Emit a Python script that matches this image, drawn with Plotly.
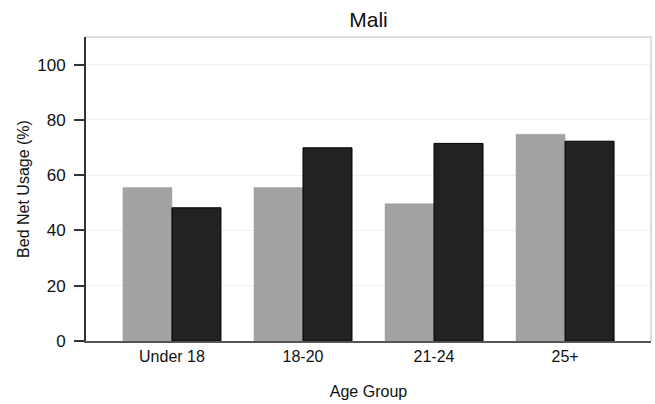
import plotly.graph_objects as go

categories = ["Under 18", "18-20", "21-24", "25+"]
series_a = [55.5, 55.5, 49.7, 74.8]
series_b = [48.2, 69.9, 71.5, 72.3]
y_ticks = [0, 20, 40, 60, 80, 100]

fig = go.Figure()
fig.add_trace(go.Bar(x=categories, y=series_a, name="A",
                     marker=dict(color="#a2a2a2", line=dict(color="#a2a2a2", width=0.5))))
fig.add_trace(go.Bar(x=categories, y=series_b, name="B",
                     marker=dict(color="#222222", line=dict(color="#000000", width=1))))

fig.update_layout(
    width=655, height=404,
    barmode="group", bargap=0.252, bargroupgap=0,
    showlegend=False,
    paper_bgcolor="white", plot_bgcolor="white",
    margin=dict(l=86, r=4, t=37, b=63),
    font=dict(family="Liberation Sans, Arial, sans-serif", size=16, color="#111111"),
    title=dict(text="Mali", x=0.5626, xanchor="center", y=0.9505, yanchor="middle",
               font=dict(size=21, color="#111111")),
    xaxis=dict(
        type="category", range=[-0.656, 3.656], automargin=False,
        showline=True, linecolor="#555555", linewidth=2,
        ticks="", showgrid=False,
        title=dict(text="Age Group", standoff=22, font=dict(size=16)),
        tickfont=dict(size=16),
    ),
    yaxis=dict(
        range=[0, 110], tickvals=y_ticks, automargin=False,
        showline=True, linecolor="#333333", linewidth=2,
        ticks="outside", ticklen=10, tickwidth=1.5, tickcolor="#333333",
        ticklabelstandoff=5,
        showgrid=True, gridcolor="#efefef", gridwidth=1,
        zeroline=False,
        title=dict(text="Bed Net Usage (%)", standoff=4, font=dict(size=16)),
        tickfont=dict(size=17),
    ),
)

# light border on the top and right of the plot area
fig.add_shape(type="line", xref="paper", yref="paper", x0=0, x1=1, y0=1, y1=1,
              line=dict(color="#dcdcdc", width=2), layer="above")
fig.add_shape(type="line", xref="paper", yref="paper", x0=1, x1=1, y0=0, y1=1,
              line=dict(color="#dcdcdc", width=2), layer="above")

fig.write_html(
    "out.html",
    config={"displayModeBar": False},
    post_script="document.body.style.margin='0';document.body.style.overflow='hidden';",
)
